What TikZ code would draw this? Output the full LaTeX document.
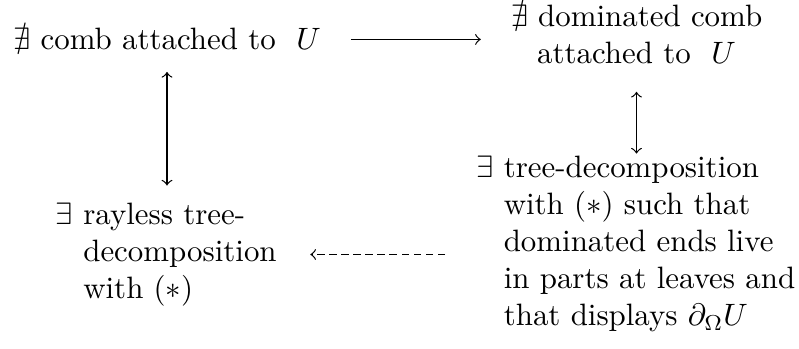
\documentclass[tikz,border=0pt]{standalone}
\usepackage{amsmath, amssymb}
\usepackage{tikz}

\begin{document}
\begin{tikzpicture}[x=1.1374mm,y=1.1374mm,
  afirm/.style={inner sep=0pt},
  trazos/.style={dash pattern=on 2.4pt off 1.5pt}]
  \useasboundingbox (0,0) rectangle (79.9,34.9);
  \node[afirm,anchor=base] (A) at (16.7,29.9) {$\nexists$ comb attached to \ $U$};
  \node[afirm,align=center] (B) at (63.65,31.5) {$\nexists$ dominated comb\\ attached to \ $U$};
  \node[afirm,align=left] (C) at (18.0,9.45) {\llap{$\exists$ }rayless tree-\\ decomposition\\ with $(*)$};
  \node[afirm,align=left] (D) at (64.95,10.52) {\llap{$\exists$ }tree-decomposition\\ with $(*)$ such that\\ dominated ends live\\ in parts at leaves and\\ that displays $\partial_\Omega U$};
  \draw[->,shorten <=9.5pt,shorten >=9.5pt] (A.east) -- (A.east -| B.west);
  \draw[<->,shorten <=6.8pt,shorten >=5.4pt] (A.south) -- (A.south |- C.north);
  \draw[<->,shorten <=9pt,shorten >=0.5pt] (B.south) -- (B.south |- D.north);
  \draw[->,trazos,shorten <=18.8pt,shorten >=10.7pt] (C.east -| D.west) -- (C.east);
\end{tikzpicture}
\end{document}
